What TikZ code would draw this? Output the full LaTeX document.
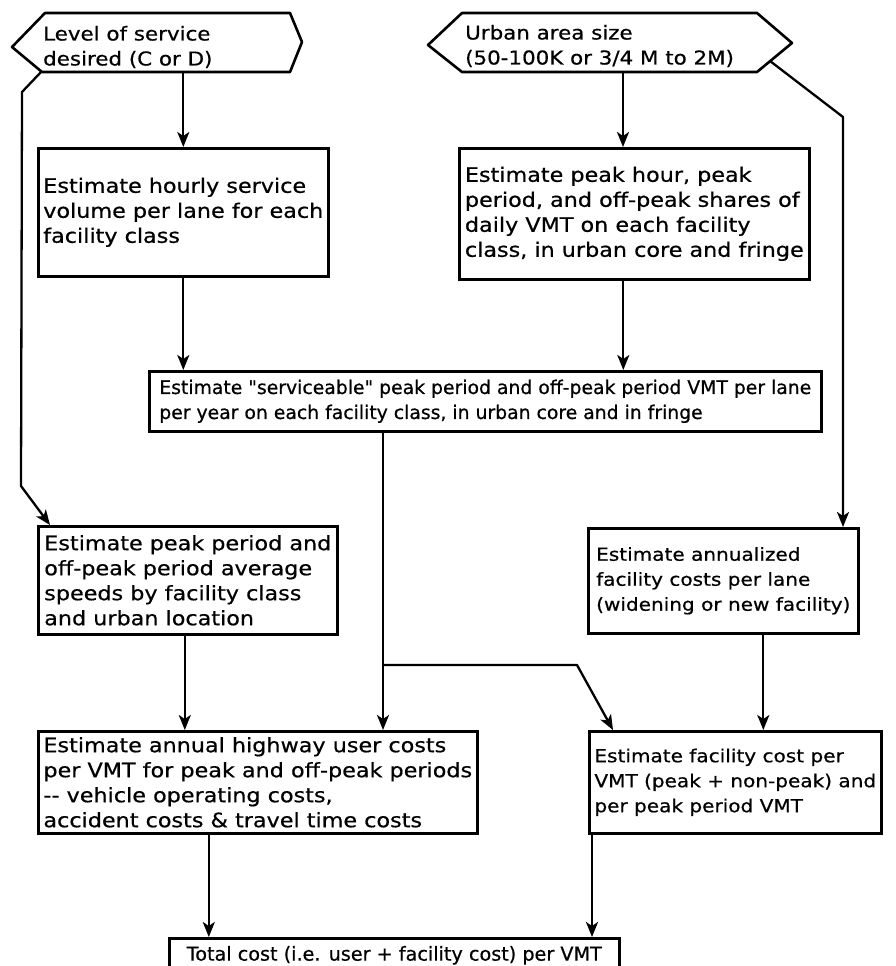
\documentclass[tikz,border=0pt]{standalone}
\usepackage{fontspec}
\setmainfont{DejaVu Sans}[FakeStretch=1.12, FakeBold=0.6]
\newfontfamily\narrowfont{DejaVu Sans}[FakeBold=0.6]
\usetikzlibrary{arrows.meta}

\tikzset{
	procbox/.style={draw, line width=2.6pt, anchor=north west, align=left,
		inner xsep=4pt, inner ysep=2pt, font=\fontsize{19.9}{25}\selectfont},
	smallbox/.style={procbox, font=\fontsize{17.9}{25}\selectfont},
	narrowbox/.style={procbox, font=\narrowfont\fontsize{18.8}{25}\selectfont},
	hexlabel/.style={anchor=west, align=left, inner sep=0pt, font=\fontsize{19.1}{25}\selectfont},
	hexline/.style={line width=2.6pt, line join=round},
	flow/.style={line width=2.3pt, line join=round, ->, >={Stealth[length=15pt, width=12pt, inset=4pt]}},
}

\begin{document}
\begin{tikzpicture}[x=1pt, y=-1pt]
	\useasboundingbox[fill=white] (0,0) rectangle (895,966);

	% the two inputs
	\draw[hexline] (45,13) -- (290,13) -- (302,42) -- (290,72) -- (42,72) -- (12,47) -- cycle;
	\draw[hexline] (462,13) -- (757,13) -- (792,43) -- (757,72) -- (462,72) -- (428,45) -- cycle;
	\node[hexlabel] (service) at (43,47) {Level of service\\desired (C or D)};
	\node[hexlabel] (urban) at (465,46) {Urban area size\\(50-100K or 3/4 M to 2M)};
	\coordinate (servicebottom) at (183,72);
	\coordinate (servicecorner) at (42,71);
	\coordinate (urbanbottom) at (623,72);
	\coordinate (urbancorner) at (770,61);

	% estimation steps
	\node[procbox, minimum width=290pt, minimum height=128pt] (hourly) at (37,147)
		{Estimate hourly service\\volume per lane for each\\facility class};
	\node[procbox, minimum width=350pt, minimum height=131pt] (shares) at (458,147)
		{Estimate peak hour, peak\\period, and off-peak shares of\\daily VMT on each facility\\class, in urban core and fringe};
	\node[narrowbox, minimum width=672pt, minimum height=60pt] (serviceable) at (148,370)
		{Estimate "serviceable" peak period and off-peak period VMT per lane\\per year on each facility class, in urban core and in fringe};
	\node[procbox, minimum width=299pt, minimum height=108pt] (speeds) at (37,525)
		{Estimate peak period and\\off-peak period average\\speeds by facility class\\and urban location};
	\node[smallbox, minimum width=270pt, minimum height=105pt] (annual) at (587,527)
		{Estimate annualized\\facility costs per lane\\(widening or new facility)};
	\node[procbox, minimum width=439pt, minimum height=102pt] (usercost) at (37,730)
		{Estimate annual highway user costs\\per VMT for peak and off-peak periods\\-{}- vehicle operating costs,\\accident costs \& travel time costs};
	\node[smallbox, minimum width=292pt, minimum height=102pt] (facility) at (588,730)
		{Estimate facility cost per\\VMT (peak + non-peak) and\\per peak period VMT};
	\node[narrowbox, font=\narrowfont\fontsize{19.2}{25}\selectfont,
		minimum width=450pt, minimum height=34pt] (total) at (168,937)
		{Total cost (i.e. user + facility cost) per VMT};

	% connectors
	\draw[flow] (hourly.north |- servicebottom) -- (hourly.north);
	\draw[flow] (urbanbottom) -- (urbanbottom |- shares.north);
	\draw[flow] (hourly.south) -- (hourly.south |- serviceable.north);
	\draw[flow] ([xshift=-11pt]shares.south) -- ([xshift=-11pt]shares.south |- serviceable.north);
	\draw[flow] (servicecorner) -- (22,92) -- (21,486) -- ([xshift=13pt]speeds.north west);
	\coordinate (urbanbend) at (843,117);
	\draw[flow] (urbancorner) -- (urbanbend) -- (urbanbend |- annual.north);
	\coordinate (split) at (383,665);
	\coordinate (splitbend) at (577,665);
	\draw[flow] (serviceable.south -| split) -- (split |- usercost.north);
	\draw[flow] (split) -- (splitbend) -- ([xshift=25pt]facility.north west);
	\draw[flow] ([xshift=-3pt]speeds.south) -- ([xshift=-3pt]speeds.south |- usercost.north);
	\draw[flow] ([xshift=40pt]annual.south) -- ([xshift=40pt]annual.south |- facility.north);
	\draw[flow] ([xshift=-49pt]usercost.south) -- ([xshift=-49pt]usercost.south |- total.north);
	\draw[flow] ([xshift=4pt]facility.south west) -- ([xshift=4pt]facility.south west |- total.north);
\end{tikzpicture}
\end{document}
